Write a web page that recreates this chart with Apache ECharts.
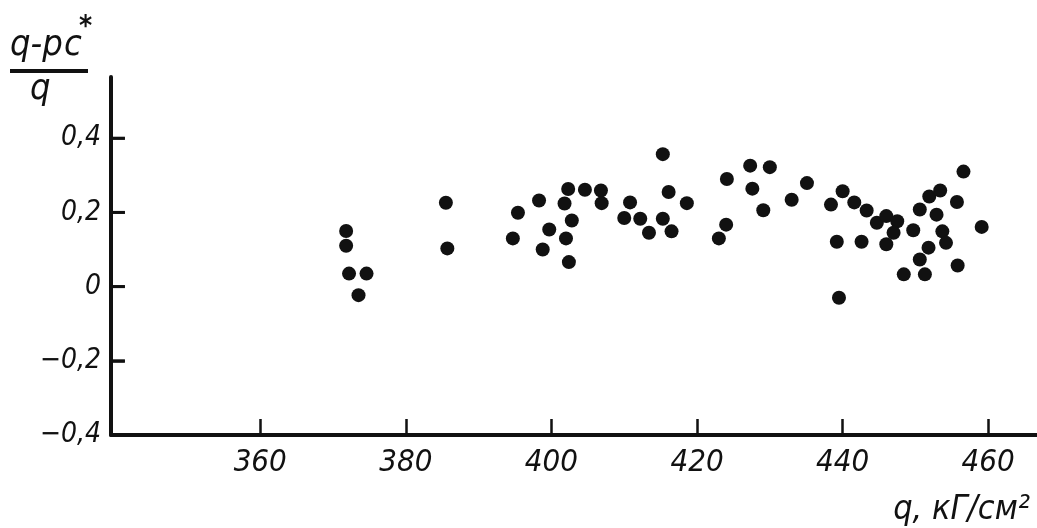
<!DOCTYPE html>
<html>
<head>
<meta charset="utf-8">
<script src="https://cdn.jsdelivr.net/npm/echarts@6/dist/echarts.min.js"></script>
<style>
html,body{margin:0;padding:0;background:#fff;}
#chart{width:1037px;height:528px;}
</style>
</head>
<body>
<div id="chart"></div>
<script>
// q, kG/cm^2
var qValues = [371.8,371.8,372.2,374.6,373.5,385.5,385.7,
  395.4,394.7,398.3,399.7,398.8,402.3,401.8,402.8,402.0,402.4,404.6,406.8,406.9,
  415.3,410.8,410.0,412.2,413.4,415.3,416.5,416.1,418.6,
  424.1,424.0,423.0,427.3,430.0,427.6,429.1,433.0,435.1,
  440.0,438.4,441.6,439.2,439.5,442.6,443.3,444.7,446.0,447.5,447.0,446.0,
  449.7,450.6,451.9,453.4,455.7,452.9,453.7,454.2,459.1,451.8,450.6,448.4,451.3,455.8,456.6];
// (q - p*c)/q
var ratioValues = [0.150,0.110,0.035,0.035,-0.023,0.226,0.103,
  0.199,0.130,0.232,0.154,0.100,0.263,0.224,0.178,0.130,0.066,0.261,0.259,0.225,
  0.357,0.227,0.185,0.183,0.145,0.183,0.149,0.255,0.225,
  0.290,0.167,0.130,0.326,0.322,0.264,0.206,0.234,0.279,
  0.257,0.221,0.227,0.121,-0.030,0.121,0.205,0.172,0.190,0.176,0.145,0.114,
  0.152,0.208,0.243,0.259,0.228,0.194,0.149,0.118,0.161,0.105,0.073,0.033,0.033,0.057,0.310];
var xTicks = [360,380,400,420,440,460];
var yTickMarks = [-0.2,0,0.2,0.4];
var yTickLabels = [-0.4,-0.2,0,0.2,0.4];
var yStep = 0.2;
var xMin = 339.5, xMax = 466.7, yMax = 0.565;
var yTickLenQ = 1.9; // tick length expressed in q units

var points = qValues.map(function(q,i){return [q, ratioValues[i]];});
var FONT = '"DejaVu Sans Condensed", "DejaVu Sans", sans-serif';
function fmt(v){
  var s = (Math.round(v*10)/10).toString().replace('.', ',');
  return s.replace('-', '\u2212');
}
var chart = echarts.init(document.getElementById('chart'));
chart.setOption({
  backgroundColor:'#fff',
  animation:false,
  grid:{left:111,right:0,top:77,bottom:93},
  xAxis:{
    type:'value', min:xMin, max:xMax,
    splitLine:{show:false},
    axisLine:{show:true,onZero:false,lineStyle:{color:'#111',width:4}},
    axisTick:{show:true,inside:true,length:16,lineStyle:{color:'#111',width:2.5},customValues:xTicks},
    axisLabel:{customValues:xTicks,color:'#111',fontFamily:FONT,fontStyle:'italic',fontSize:31,margin:12,
      formatter:function(v){return String(v);}}
  },
  yAxis:{
    type:'value', min:yTickLabels[0], max:yMax, interval:yStep,
    splitLine:{show:false},
    axisLine:{show:true,onZero:false,lineStyle:{color:'#111',width:4}},
    axisTick:{show:false},
    axisLabel:{color:'#111',fontFamily:FONT,fontStyle:'italic',fontSize:28,margin:10,
      showMaxLabel:false,
      formatter:function(v){
        for (var i=0;i<yTickLabels.length;i++){ if (Math.abs(v-yTickLabels[i])<1e-6) return fmt(v); }
        return '';
      }}
  },
  series:[{
    type:'scatter',
    data:points,
    symbol:'circle',
    symbolSize:14,
    itemStyle:{color:'#111',opacity:1}
  },{
    // inward y-axis tick marks as short horizontal line segments in data space
    type:'line',
    silent:true,
    data:[],
    symbol:'none',
    markLine:{
      silent:true,
      symbol:['none','none'],
      label:{show:false},
      animation:false,
      lineStyle:{color:'#111',width:2.5,type:'solid',opacity:1},
      data:yTickMarks.map(function(v){
        return [{coord:[xMin, v]},{coord:[xMin + yTickLenQ, v]}];
      })
    }
  },{
    type:'scatter',
    silent:true,
    clip:false,
    data:yTickMarks.map(function(v){return [xMin + yTickLenQ/2, v];}),
    symbol:'rect',
    symbolSize:[14,3],
    itemStyle:{color:'#111',opacity:1},
    z:10
  }],
  graphic:[
    {type:'text',left:10,top:28,style:{text:'q-p',fill:'#111',font:'italic 36px '+FONT}},
    {type:'text',left:64,top:28,style:{text:'c',fill:'#111',font:'italic 36px '+FONT}},
    {type:'text',left:79,top:14,style:{text:'*',fill:'#111',font:'bold 28px '+FONT}},
    {type:'line',shape:{x1:10,y1:71,x2:88,y2:71},style:{stroke:'#111',lineWidth:4}},
    {type:'text',left:30,top:72,style:{text:'q',fill:'#111',font:'italic 36px '+FONT}},
    {type:'text',right:7,bottom:1,style:{text:'q, \u043a\u0413/\u0441\u043c\u00b2',fill:'#111',font:'italic 34px '+FONT}}
  ]
});
</script>
</body>
</html>
